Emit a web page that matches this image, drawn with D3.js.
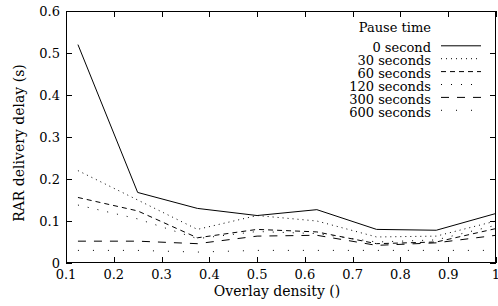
<!DOCTYPE html>
<html>
<head>
<meta charset="utf-8">
<script src="https://d3js.org/d3.v7.min.js"></script>
<style>
  body { margin: 0; background: #fff; }
</style>
</head>
<body>
<div id="chart"></div>
<script>
// overlay density on the x axis
var density = [0.125, 0.25, 0.375, 0.5, 0.625, 0.75, 0.875, 1.0];

// delay per pause time (s)
var sec0   = [0.520, 0.168, 0.130, 0.113, 0.127, 0.080, 0.078, 0.118];
var sec30  = [0.220, 0.150, 0.080, 0.113, 0.100, 0.062, 0.064, 0.100];
var sec60  = [0.156, 0.124, 0.060, 0.080, 0.074, 0.046, 0.050, 0.082];
var sec120 = [0.138, 0.105, 0.058, 0.075, 0.070, 0.050, 0.055, 0.090];
var sec300 = [0.052, 0.052, 0.046, 0.064, 0.066, 0.042, 0.048, 0.066];
var sec600 = [0.030, 0.030, 0.026, 0.030, 0.030, 0.030, 0.030, 0.030];

var seriesNames = ["0 second", "30 seconds", "60 seconds", "120 seconds", "300 seconds", "600 seconds"];
var seriesValues = [sec0, sec30, sec60, sec120, sec300, sec600];
var dashes = [null, "1,4", "5,4", "1,9", "8,8", "1,14"];

var xTicks = [0.1, 0.2, 0.3, 0.4, 0.5, 0.6, 0.7, 0.8, 0.9, 1];
var yTicks = [0, 0.1, 0.2, 0.3, 0.4, 0.5, 0.6];

var W = 498, H = 306;
var m = { left: 66, right: 496, top: 11, bottom: 263 };
var FONT = "'DejaVu Serif', 'Times New Roman', serif";

var svg = d3.select("#chart").append("svg")
    .attr("width", W).attr("height", H)
    .style("font-family", FONT);

var x = d3.scaleLinear().domain([0.1, 1]).range([m.left, m.right]);
var y = d3.scaleLinear().domain([0, 0.6]).range([m.bottom, m.top]);

// frame
svg.append("rect")
    .attr("x", m.left + 0.5).attr("y", m.top + 0.5)
    .attr("width", m.right - m.left - 1).attr("height", m.bottom - m.top - 1)
    .attr("fill", "none").attr("stroke", "#000").attr("stroke-width", 1);

// ticks, inward and mirrored like gnuplot
var tk = 6;
var g = svg.append("g").attr("stroke", "#000").attr("stroke-width", 1);
xTicks.forEach(function (t) {
    var px = Math.round(x(t)) + 0.5;
    g.append("line").attr("x1", px).attr("x2", px).attr("y1", m.bottom).attr("y2", m.bottom - tk);
    g.append("line").attr("x1", px).attr("x2", px).attr("y1", m.top).attr("y2", m.top + tk);
});
yTicks.forEach(function (t) {
    var py = Math.round(y(t)) + 0.5;
    g.append("line").attr("x1", m.left).attr("x2", m.left + tk).attr("y1", py).attr("y2", py);
    g.append("line").attr("x1", m.right).attr("x2", m.right - tk).attr("y1", py).attr("y2", py);
});

// tick labels
svg.selectAll("text.xt").data(xTicks).enter().append("text")
    .attr("class", "xt")
    .attr("x", function (d) { return x(d); })
    .attr("y", 279)
    .attr("text-anchor", "middle")
    .style("font-size", "13px")
    .text(function (d) { return d === 1 ? "1" : d3.format(".1f")(d); });

svg.selectAll("text.yt").data(yTicks).enter().append("text")
    .attr("class", "yt")
    .attr("x", 60)
    .attr("y", function (d) { return y(d) + 5; })
    .attr("text-anchor", "end")
    .style("font-size", "13px")
    .text(function (d) { return d === 0 ? "0" : d3.format(".1f")(d); });

// axis titles
svg.append("text")
    .attr("x", 277).attr("y", 296)
    .attr("text-anchor", "middle")
    .style("font-size", "14px")
    .text("Overlay density ()");

svg.append("text")
    .attr("transform", "translate(24,143) rotate(-90)")
    .attr("text-anchor", "middle")
    .style("font-size", "14px")
    .text("RAR delivery delay (s)");

// lines
var line = d3.line()
    .x(function (d, i) { return x(density[i]); })
    .y(function (d) { return y(d); });

seriesValues.forEach(function (vals, k) {
    svg.append("path")
        .datum(vals)
        .attr("d", line)
        .attr("fill", "none")
        .attr("stroke", "#000")
        .attr("stroke-width", 1)
        .attr("stroke-dasharray", dashes[k]);
});

// legend
var lx = 431, ly0 = 52.3, step = 12.9;
svg.append("text")
    .attr("x", lx).attr("y", 32)
    .attr("text-anchor", "end")
    .style("font-size", "13px")
    .text("Pause time");

seriesNames.forEach(function (name, k) {
    var yy = ly0 + k * step;
    svg.append("text")
        .attr("x", lx).attr("y", yy)
        .attr("text-anchor", "end")
        .style("font-size", "13px")
        .text(name);
    svg.append("line")
        .attr("x1", 441).attr("x2", 481)
        .attr("y1", yy - 6.5).attr("y2", yy - 6.5)
        .attr("stroke", "#000")
        .attr("stroke-width", 1)
        .attr("stroke-dasharray", dashes[k]);
});
</script>
</body>
</html>
